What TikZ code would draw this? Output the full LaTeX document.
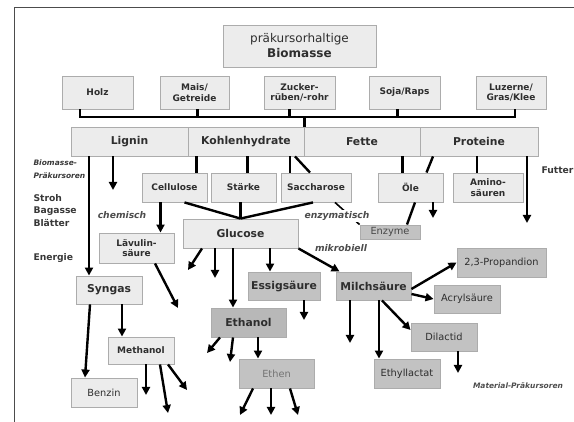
\documentclass[tikz,border=0pt]{standalone}
\usepackage{fontspec}
\setmainfont{DejaVu Sans}
\usetikzlibrary{arrows.meta}

\tikzset{
  sz/.style 2 args={minimum width=#1pt, minimum height=#2pt},
  srcbox/.style={draw=gray!65, line width=0.9pt, fill=gray!15, inner sep=0pt,
    align=center, text=black!82, font=\fontsize{9}{10.5}\selectfont\bfseries},
  mainbox/.style={srcbox, font=\fontsize{10.8}{12}\selectfont\bfseries},
  prodbox/.style={srcbox, fill=gray!48, font=\fontsize{9.8}{11}\selectfont},
  conn/.style={line width=2.4pt},
  arr/.style={conn, -{Triangle[length=8pt,width=8pt]}},
  remark/.style={font=\fontsize{9.2}{10}\selectfont\bfseries\itshape, text=black!70},
  side/.style={anchor=west, align=left, text=black!78,
    font=\fontsize{9.2}{12.5}\selectfont\bfseries},
}

\begin{document}
\begin{tikzpicture}[x=1pt, y=-1pt]
  \useasboundingbox (0,0) rectangle (574,422);
  \draw[black!70, line width=1pt] (14,422) -- (14,8) -- (574,8);

  % Biomasse und Quellen
  \node[srcbox, sz={153}{42}, font=\fontsize{12}{15}\selectfont] (bio) at (299.5,46)
    {präkursorhaltige\\\textbf{Biomasse}};
  \node[srcbox, sz={71}{33}] (holz) at (97.5,92.5) {Holz};
  \node[srcbox, sz={69}{33}] (mais) at (194.5,92.5) {Mais/\\Getreide};
  \node[srcbox, sz={71}{33}] (zuck) at (299.5,92.5) {Zucker-\\rüben/-rohr};
  \node[srcbox, sz={71}{33}] (soja) at (404.5,92.5) {Soja/Raps};
  \node[srcbox, sz={70}{33}] (luz) at (511,92.5) {Luzerne/\\Gras/Klee};

  % Inhaltsstoffe
  \node[mainbox, sz={117}{29}] (lig) at (129.5,141.5) {Lignin};
  \node[mainbox, sz={116}{29}] (kh) at (246,141.5) {Kohlenhydrate};
  \node[mainbox, sz={116}{29}] (fet) at (362,141.5) {Fette};
  \node[mainbox, sz={118}{29}] (pro) at (479,141.5) {Proteine};

  \node[srcbox, sz={65}{29}] (cel) at (174.5,187.5) {Cellulose};
  \node[srcbox, sz={65}{29}] (sta) at (243.5,187.5) {Stärke};
  \node[srcbox, sz={70}{29}] (sac) at (316,187.5) {Saccharose};
  \node[srcbox, sz={65}{29}] (ole) at (410.5,187.5) {Öle};
  \node[srcbox, sz={70}{29}] (ami) at (488,187.5) {Amino-\\säuren};

  \node[mainbox, sz={115}{29}] (glu) at (240.5,233.5) {Glucose};
  \node[srcbox, sz={75}{30}] (lae) at (136.5,248) {Lävulin-\\säure};
  \node[prodbox, sz={60}{14}, text=black!72] (enz) at (390,232) {Enzyme};
  \node[mainbox, sz={66}{28}] (syn) at (109,290) {Syngas};
  \node[srcbox, sz={66}{27}] (met) at (141,350.5) {Methanol};
  \node[srcbox, sz={66}{29}, font=\fontsize{9.8}{11}\selectfont] (ben) at (104,392.5) {Benzin};

  % Produkte
  \node[prodbox, sz={72}{28}, font=\fontsize{10.8}{12}\selectfont\bfseries] (ess) at (284,286) {Essigsäure};
  \node[prodbox, sz={75}{28}, font=\fontsize{10.8}{12}\selectfont\bfseries] (mil) at (373.5,286) {Milchsäure};
  \node[prodbox, sz={75}{29}, fill=gray!56, font=\fontsize{10.8}{12}\selectfont\bfseries] (eth) at (248.5,322.5) {Ethanol};
  \node[prodbox, sz={75}{29}, text=black!55] (ethen) at (276.5,373.5) {Ethen};
  \node[prodbox, sz={89}{29}] (pdion) at (501.5,262.5) {2,3-Propandion};
  \node[prodbox, sz={66}{28}] (acr) at (467,299) {Acrylsäure};
  \node[prodbox, sz={66}{28}] (dil) at (444,337) {Dilactid};
  \node[prodbox, sz={66}{29}] (etl) at (407,373.5) {Ethyllactat};

  % Beschriftungen
  \node[side, font=\fontsize{7.5}{13}\selectfont\bfseries\itshape] (bpk) at (30,169.5) {Biomasse-\\Präkursoren};
  \node[side] (res) at (30,210.5) {Stroh\\Bagasse\\Blätter};
  \node[side] (ener) at (30,258) {Energie};
  \node[side] (fut) at (538,170) {Futter};
  \node[remark] (chem) at (122,215) {chemisch};
  \node[remark] (mikro) at (341,248) {mikrobiell};
  \node[remark, font=\fontsize{7.5}{9}\selectfont\bfseries\itshape] (mpk) at (518,386) {Material-Präkursoren};

  % freie Pfeilenden
  \foreach \n/\x/\y in {f1/527/223, f2/113/190, f3/433/218, f4/178/308,
      f5/146/395, f6/168/413, f7/187/390, f8/188/270, f9/215/278,
      f10/304/320, f11/207/353, f12/230/362, f13/240/415, f14/271/415,
      f15/298/415, f16/458/373, f17/350/343}
    \coordinate (\n) at (\x,\y);

  % Sammelschiene
  \coordinate (busL) at (80,117);
  \coordinate (busR) at (515,117);
  \draw[conn] (holz.south -| busL) -- (busL) -- (busR) -- (luz.south -| busR);
  \draw[conn] ([xshift=3pt]mais.south) |- (busL);
  \draw[conn] ([xshift=-10pt]zuck.south) |- (busL);
  \draw[conn] ([xshift=-7pt]soja.south) |- (busL);
  \draw[conn] (busL -| kh.east) -- (kh.north east);

  % Inhaltsstoffe -> Fraktionen
  \draw[conn] ([xshift=22pt]cel.north |- kh.south) -- ([xshift=22pt]cel.north);
  \draw[conn] ([xshift=4pt]sta.north |- kh.south) -- ([xshift=4pt]sta.north);
  \draw[conn] ([xshift=-26pt]sac.north |- kh.south) -- ([xshift=-26pt]sac.north);
  \draw[conn] ([xshift=49pt]kh.south) -- ([xshift=-6pt]sac.north);
  \draw[conn] ([xshift=-8pt]ole.north |- fet.south) -- ([xshift=-8pt]ole.north);
  \draw[conn] ([xshift=-46pt]pro.south) -- ([xshift=16pt]ole.north);
  \draw[conn] ([xshift=-11pt]ami.north |- pro.south) -- ([xshift=-11pt]ami.north);
  \draw[arr] (pro.south -| f1) -- (f1);
  \draw[arr] ([xshift=-20pt]syn.north |- lig.south) -- ([xshift=-20pt]syn.north);
  \draw[arr] (lig.south -| f2) -- (f2);

  % Zucker
  \draw[arr] ([xshift=-14pt]cel.south) -- ([xshift=-14pt]cel.south |- lae.north);
  \draw[conn] ([xshift=10pt]cel.south) -- (glu.north);
  \draw[conn] (sta.south -| glu.north) -- (glu.north);
  \draw[conn] ([xshift=-3pt]sac.south) -- (glu.north);
  \draw[line width=1.6pt] ([xshift=19pt]sac.south) -- (enz.north west);
  \node[remark, fill=white, inner sep=1.5pt] (enzl) at (337,216) {enzymatisch};
  \draw[conn] ([xshift=4.5pt]ole.south) -- ([xshift=17pt]enz.north);
  \draw[arr] (ole.south -| f3) -- (f3);
  \draw[arr] ([xshift=18.5pt]lae.south) -- (f4);

  % Syngas
  \draw[arr] ([xshift=13pt]syn.south) -- ([xshift=13pt]syn.south |- met.north);
  \draw[arr] ([xshift=-19pt]syn.south) -- ([xshift=-19pt]ben.north);
  \draw[arr] (met.south -| f5) -- (f5);
  \draw[arr] ([xshift=19pt]met.south) -- (f6);
  \draw[arr] ([xshift=27pt]met.south) -- (f7);

  % Glucose
  \draw[arr] ([xshift=-38.5pt]glu.south) -- (f8);
  \draw[arr] (glu.south -| f9) -- (f9);
  \draw[arr] ([xshift=-15.5pt]eth.north |- glu.south) -- ([xshift=-15.5pt]eth.north);
  \draw[arr] ([xshift=-14pt]ess.north |- glu.south) -- ([xshift=-14pt]ess.north);
  \draw[arr] (glu.south east) -- ([xshift=4pt]mil.north west);
  \draw[arr] (ess.south -| f10) -- (f10);

  % Ethanol
  \draw[arr] ([xshift=-28.5pt]eth.south) -- (f11);
  \draw[arr] ([xshift=-15.5pt]eth.south) -- (f12);
  \draw[arr] ([xshift=-18.5pt]ethen.north |- eth.south) -- ([xshift=-18.5pt]ethen.north);
  \draw[arr] ([xshift=-23.5pt]ethen.south) -- (f13);
  \draw[arr] (ethen.south -| f14) -- (f14);
  \draw[arr] ([xshift=13.5pt]ethen.south) -- (f15);

  % Milchsaeure
  \draw[arr] ([yshift=-3pt]mil.east) -- (pdion.west);
  \draw[arr] ([yshift=-8pt]mil.east) -- (acr.west);
  \draw[arr] ([xshift=8.5pt]mil.south) -- ([yshift=7pt]dil.west);
  \draw[arr] (dil.south -| f16) -- (f16);
  \draw[arr] ([xshift=-28pt]etl.north |- mil.south) -- ([xshift=-28pt]etl.north);
  \draw[arr] (mil.south -| f17) -- (f17);
\end{tikzpicture}
\end{document}
